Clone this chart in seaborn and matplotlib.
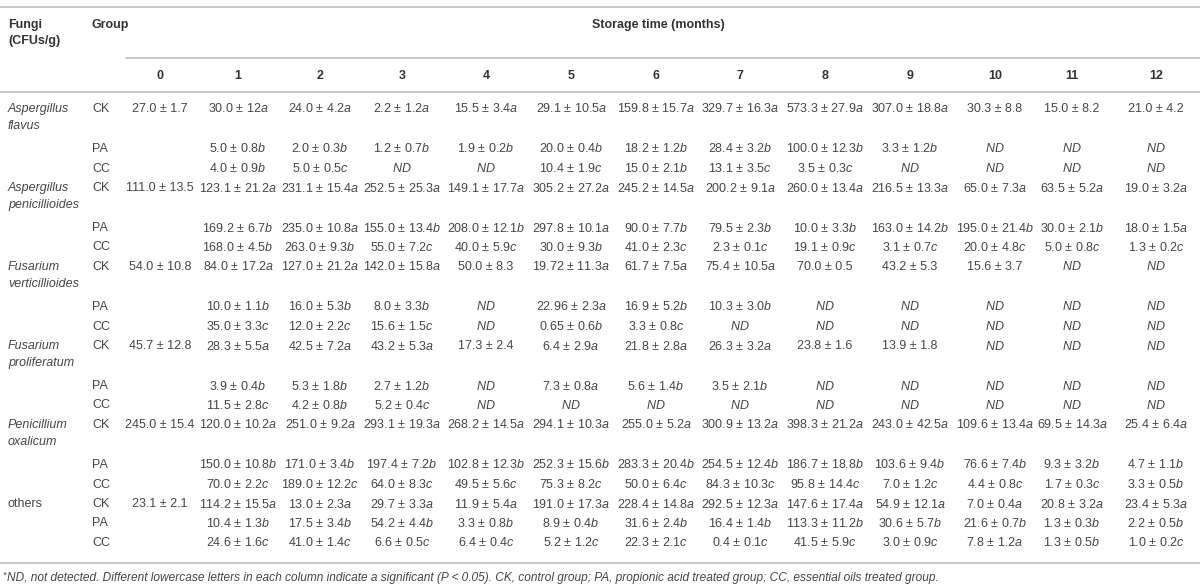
import re
import numpy as np
import pandas as pd
import matplotlib
matplotlib.use("Agg")
import matplotlib.pyplot as plt
import seaborn as sns

sns.set_theme(style="white")
plt.rcParams['font.family'] = ['Liberation Sans', 'DejaVu Sans']
plt.rcParams['mathtext.fontset'] = 'custom'
plt.rcParams['mathtext.rm'] = 'Liberation Sans'
plt.rcParams['mathtext.it'] = 'Liberation Sans:italic'

# ---- table data ----
months = [str(m) for m in range(13)]
fungi = [("Aspergillus", "flavus"), ("Aspergillus", "penicillioides"),
         ("Fusarium", "verticillioides"), ("Fusarium", "proliferatum"),
         ("Penicillium", "oxalicum"), ("others", "")]
groups = ["CK", "PA", "CC"]

af_ck = ["27.0 ± 1.7", "30.0 ± 12a", "24.0 ± 4.2a", "2.2 ± 1.2a", "15.5 ± 3.4a", "29.1 ± 10.5a", "159.8 ± 15.7a",
         "329.7 ± 16.3a", "573.3 ± 27.9a", "307.0 ± 18.8a", "30.3 ± 8.8", "15.0 ± 8.2", "21.0 ± 4.2"]
af_pa = ["", "5.0 ± 0.8b", "2.0 ± 0.3b", "1.2 ± 0.7b", "1.9 ± 0.2b", "20.0 ± 0.4b", "18.2 ± 1.2b",
         "28.4 ± 3.2b", "100.0 ± 12.3b", "3.3 ± 1.2b", "ND", "ND", "ND"]
af_cc = ["", "4.0 ± 0.9b", "5.0 ± 0.5c", "ND", "ND", "10.4 ± 1.9c", "15.0 ± 2.1b",
         "13.1 ± 3.5c", "3.5 ± 0.3c", "ND", "ND", "ND", "ND"]
ap_ck = ["111.0 ± 13.5", "123.1 ± 21.2a", "231.1 ± 15.4a", "252.5 ± 25.3a", "149.1 ± 17.7a", "305.2 ± 27.2a",
         "245.2 ± 14.5a", "200.2 ± 9.1a", "260.0 ± 13.4a", "216.5 ± 13.3a", "65.0 ± 7.3a", "63.5 ± 5.2a", "19.0 ± 3.2a"]
ap_pa = ["", "169.2 ± 6.7b", "235.0 ± 10.8a", "155.0 ± 13.4b", "208.0 ± 12.1b", "297.8 ± 10.1a", "90.0 ± 7.7b",
         "79.5 ± 2.3b", "10.0 ± 3.3b", "163.0 ± 14.2b", "195.0 ± 21.4b", "30.0 ± 2.1b", "18.0 ± 1.5a"]
ap_cc = ["", "168.0 ± 4.5b", "263.0 ± 9.3b", "55.0 ± 7.2c", "40.0 ± 5.9c", "30.0 ± 9.3b", "41.0 ± 2.3c",
         "2.3 ± 0.1c", "19.1 ± 0.9c", "3.1 ± 0.7c", "20.0 ± 4.8c", "5.0 ± 0.8c", "1.3 ± 0.2c"]
fv_ck = ["54.0 ± 10.8", "84.0 ± 17.2a", "127.0 ± 21.2a", "142.0 ± 15.8a", "50.0 ± 8.3", "19.72 ± 11.3a",
         "61.7 ± 7.5a", "75.4 ± 10.5a", "70.0 ± 0.5", "43.2 ± 5.3", "15.6 ± 3.7", "ND", "ND"]
fv_pa = ["", "10.0 ± 1.1b", "16.0 ± 5.3b", "8.0 ± 3.3b", "ND", "22.96 ± 2.3a", "16.9 ± 5.2b",
         "10.3 ± 3.0b", "ND", "ND", "ND", "ND", "ND"]
fv_cc = ["", "35.0 ± 3.3c", "12.0 ± 2.2c", "15.6 ± 1.5c", "ND", "0.65 ± 0.6b", "3.3 ± 0.8c",
         "ND", "ND", "ND", "ND", "ND", "ND"]
fp_ck = ["45.7 ± 12.8", "28.3 ± 5.5a", "42.5 ± 7.2a", "43.2 ± 5.3a", "17.3 ± 2.4", "6.4 ± 2.9a", "21.8 ± 2.8a",
         "26.3 ± 3.2a", "23.8 ± 1.6", "13.9 ± 1.8", "ND", "ND", "ND"]
fp_pa = ["", "3.9 ± 0.4b", "5.3 ± 1.8b", "2.7 ± 1.2b", "ND", "7.3 ± 0.8a", "5.6 ± 1.4b",
         "3.5 ± 2.1b", "ND", "ND", "ND", "ND", "ND"]
fp_cc = ["", "11.5 ± 2.8c", "4.2 ± 0.8b", "5.2 ± 0.4c", "ND", "ND", "ND",
         "ND", "ND", "ND", "ND", "ND", "ND"]
po_ck = ["245.0 ± 15.4", "120.0 ± 10.2a", "251.0 ± 9.2a", "293.1 ± 19.3a", "268.2 ± 14.5a", "294.1 ± 10.3a",
         "255.0 ± 5.2a", "300.9 ± 13.2a", "398.3 ± 21.2a", "243.0 ± 42.5a", "109.6 ± 13.4a", "69.5 ± 14.3a", "25.4 ± 6.4a"]
po_pa = ["", "150.0 ± 10.8b", "171.0 ± 3.4b", "197.4 ± 7.2b", "102.8 ± 12.3b", "252.3 ± 15.6b", "283.3 ± 20.4b",
         "254.5 ± 12.4b", "186.7 ± 18.8b", "103.6 ± 9.4b", "76.6 ± 7.4b", "9.3 ± 3.2b", "4.7 ± 1.1b"]
po_cc = ["", "70.0 ± 2.2c", "189.0 ± 12.2c", "64.0 ± 8.3c", "49.5 ± 5.6c", "75.3 ± 8.2c", "50.0 ± 6.4c",
         "84.3 ± 10.3c", "95.8 ± 14.4c", "7.0 ± 1.2c", "4.4 ± 0.8c", "1.7 ± 0.3c", "3.3 ± 0.5b"]
ot_ck = ["23.1 ± 2.1", "114.2 ± 15.5a", "13.0 ± 2.3a", "29.7 ± 3.3a", "11.9 ± 5.4a", "191.0 ± 17.3a",
         "228.4 ± 14.8a", "292.5 ± 12.3a", "147.6 ± 17.4a", "54.9 ± 12.1a", "7.0 ± 0.4a", "20.8 ± 3.2a", "23.4 ± 5.3a"]
ot_pa = ["", "10.4 ± 1.3b", "17.5 ± 3.4b", "54.2 ± 4.4b", "3.3 ± 0.8b", "8.9 ± 0.4b", "31.6 ± 2.4b",
         "16.4 ± 1.4b", "113.3 ± 11.2b", "30.6 ± 5.7b", "21.6 ± 0.7b", "1.3 ± 0.3b", "2.2 ± 0.5b"]
ot_cc = ["", "24.6 ± 1.6c", "41.0 ± 1.4c", "6.6 ± 0.5c", "6.4 ± 0.4c", "5.2 ± 1.2c", "22.3 ± 2.1c",
         "0.4 ± 0.1c", "41.5 ± 5.9c", "3.0 ± 0.9c", "7.8 ± 1.2a", "1.3 ± 0.5b", "1.0 ± 0.2c"]

blocks = [[af_ck, af_pa, af_cc], [ap_ck, ap_pa, ap_cc], [fv_ck, fv_pa, fv_cc],
          [fp_ck, fp_pa, fp_cc], [po_ck, po_pa, po_cc], [ot_ck, ot_pa, ot_cc]]

footnote = ("ND, not detected. Different lowercase letters in each column indicate a significant "
            "(P < 0.05). CK, control group; PA, propionic acid treated group; CC, essential oils treated group.")

# long table frame
recs = []
for (g1, g2), blk in zip(fungi, blocks):
    for grp, vals in zip(groups, blk):
        for m, v in zip(months, vals):
            recs.append(dict(fungus=g1, species=g2, group=grp, month=m, value=v))
df = pd.DataFrame(recs)

# ---- layout (pixels) ----
W, H = 1200, 587
col_x = [160, 238, 320, 402, 486, 571, 656, 740, 825, 910, 995, 1072, 1156]
first_gap = 40   # CK row of two-line name
step = 19.5
txt = '#464646'
head_c = '#333333'
line_c = '#c6c6c6'
fs = 9.0

fig = plt.figure(figsize=(W / 100, H / 100), dpi=100)
ax = fig.add_axes([0, 0, 1, 1])
ax.set_xlim(0, W)
ax.set_ylim(H, 0)
ax.axis('off')


def fmt(v):
    if v == "ND":
        return r"$\mathit{ND}$"
    m = re.match(r"^(.*\d)([abc])$", v)
    if m:
        return m.group(1) + r"$\mathit{" + m.group(2) + "}$"
    return v


# header
ax.plot([0, W], [7, 7], color=line_c, lw=1.4)
ax.text(8, 25, "Fungi", fontsize=fs, fontweight='bold', color=head_c, va='center')
ax.text(8, 41, "(CFUs/g)", fontsize=fs, fontweight='bold', color=head_c, va='center')
ax.text(92, 25, "Group", fontsize=fs, fontweight='bold', color=head_c, va='center')
ax.text((col_x[0] + col_x[-1]) / 2, 25, "Storage time (months)", fontsize=fs,
        fontweight='bold', color=head_c, va='center', ha='center')
ax.plot([126, W], [58, 58], color=line_c, lw=1.4)
for x, m in zip(col_x, months):
    ax.text(x, 76, m, fontsize=fs, fontweight='bold', color=head_c, va='center', ha='center')
ax.plot([0, W], [92, 92], color=line_c, lw=1.4)

# body
y = 109
for (g1, g2), sub in df.groupby(['fungus', 'species'], sort=False):
    style = 'normal' if g1 == 'others' else 'italic'
    ax.text(8, y, g1, fontsize=fs, fontstyle=style, color=txt, va='center')
    if g2:
        ax.text(8, y + 17, g2, fontsize=fs, fontstyle=style, color=txt, va='center')
    for gi, (grp, rows) in enumerate(sub.groupby('group', sort=False)):
        ax.text(92, y, grp, fontsize=fs, color=txt, va='center')
        for x, v in zip(col_x, rows['value']):
            if v:
                ax.text(x, y, fmt(v), fontsize=fs, color=txt, va='center', ha='center')
        if gi == 0 and g2:
            y += first_gap
        else:
            y += step
ax.plot([0, W], [y + 0.5, y + 0.5], color=line_c, lw=1.4)
ax.text(2, y + 13, "*", fontsize=6.5, fontstyle='italic', color=txt, va='center')
ax.text(7, y + 16, footnote, fontsize=8.6, fontstyle='italic', color=txt, va='center')

fig.savefig('out.png', dpi=100)
